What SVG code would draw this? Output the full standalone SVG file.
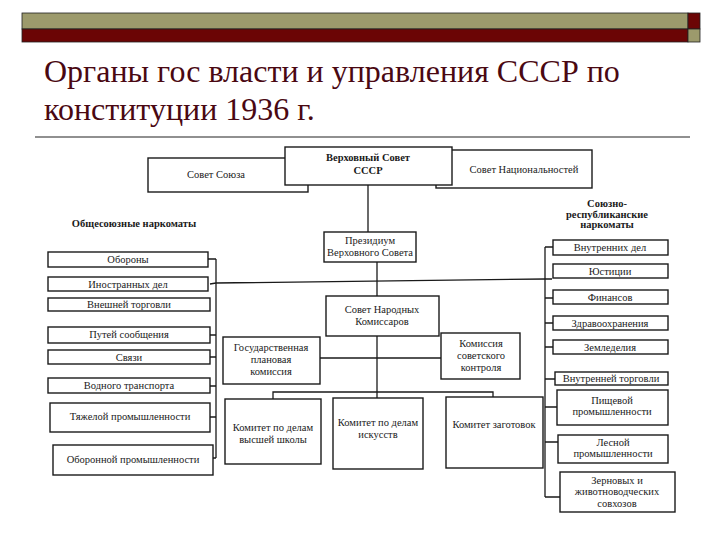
<svg xmlns="http://www.w3.org/2000/svg" width="720" height="540" viewBox="0 0 720 540">
<style>
.t{font-family:"Liberation Serif","Times New Roman",serif;font-size:10.5px;fill:#1a1a1a;text-anchor:middle}
.b{font-weight:bold}
.box{fill:#fff;stroke:#1a1a1a;stroke-width:1.4}
.ln{fill:none;stroke:#1a1a1a;stroke-width:1.3}
.title{font-family:"Liberation Serif","Times New Roman",serif;font-size:32px;fill:#4a0812}
</style>
<rect width="720" height="540" fill="#fff"/>
<g id="header">
<rect x="22" y="13" width="666" height="16" fill="#9c9a6c" stroke="#222" stroke-width="0.8"/>
<rect x="22" y="29" width="666" height="13" fill="#6b0505" stroke="#222" stroke-width="0.8"/>
<rect x="688" y="13" width="12" height="16" fill="#6b0505" stroke="#222" stroke-width="0.8"/>
<rect x="688" y="29" width="12" height="13" fill="#9c9a6c" stroke="#222" stroke-width="0.8"/>
<text class="title" x="44" y="82">Органы гос власти и управления СССР по</text>
<text class="title" x="44" y="120">конституции 1936 г.</text>
<line x1="35" y1="137" x2="690" y2="137" stroke="#222" stroke-width="1.2"/>
</g>
<g id="connectors">
<path class="ln" d="M368 185 V232"/>
<path class="ln" d="M377 262 V296"/>
<path class="ln" d="M210 284 L216 283 L545 279 L552 279"/>
<path class="ln" d="M216 259 V458"/>
<path class="ln" d="M208 259 H216 M210 335 H216 M210 357 H216 M210 386 H216 M210 417 H216 M213 458 H216"/>
<path class="ln" d="M545 247 V497"/>
<path class="ln" d="M545 247 H553 M545 298 H553 M545 323 H553 M545 347 H553 M545 379 H555 M545 407 H557 M545 442 H558 M545 497 H560"/>
<path class="ln" d="M377 336 V392"/>
<path class="ln" d="M320 358 H441"/>
<path class="ln" d="M273 399 V392 H493 V397 M377 392 V398"/>
</g>
<g id="sovet-soyuza"><rect class="box" x="148" y="158" width="160" height="34"/><text class="t" x="216" y="178">Совет Союза</text></g>
<g id="sovet-nats"><rect class="box" x="436" y="150" width="156" height="38"/><text class="t" x="524" y="173">Совет Национальностей</text></g>
<g id="verkhovny"><rect class="box" x="285" y="147" width="167" height="38"/><text class="t b" x="368" y="161">Верховный Совет</text><text class="t b" x="368" y="174">СССР</text></g>
<g id="prezidium"><rect class="box" x="324" y="232" width="92" height="30"/><text class="t" x="370" y="244">Президиум</text><text class="t" x="370" y="256">Верховного Совета</text></g>
<g id="snk"><rect class="box" x="326" y="296" width="113" height="40"/><text class="t" x="382" y="313">Совет Народных</text><text class="t" x="382" y="325">Комиссаров</text></g>
<g id="gosplan"><rect class="box" x="223" y="337" width="97" height="47"/><text class="t" x="271" y="351">Государственная</text><text class="t" x="271" y="363">плановая</text><text class="t" x="271" y="375">комиссия</text></g>
<g id="kontrol"><rect class="box" x="441" y="333" width="79" height="46"/><text class="t" x="481" y="347">Комиссия</text><text class="t" x="481" y="359">советского</text><text class="t" x="481" y="371">контроля</text></g>
<g id="vysh-shkola"><rect class="box" x="225" y="399" width="96" height="65"/><text class="t" x="273" y="431">Комитет по делам</text><text class="t" x="273" y="443">высшей школы</text></g>
<g id="iskusstva"><rect class="box" x="333" y="398" width="90" height="71"/><text class="t" x="378" y="426">Комитет по делам</text><text class="t" x="378" y="438">искусств</text></g>
<g id="zagotovki"><rect class="box" x="446" y="397" width="97" height="71"/><text class="t" x="494" y="428">Комитет заготовок</text></g>
<g id="obshchesoyuznye"><text class="t b" x="134" y="227">Общесоюзные наркоматы</text></g>
<g id="oborony"><rect class="box" x="48" y="252" width="160" height="15"/><text class="t" x="128" y="263">Обороны</text></g>
<g id="inostr"><rect class="box" x="48" y="277" width="160" height="14"/><text class="t" x="128" y="288">Иностранных дел</text></g>
<g id="vneshn"><rect class="box" x="48" y="298" width="162" height="13"/><text class="t" x="129" y="308">Внешней торговли</text></g>
<g id="putey"><rect class="box" x="48" y="327" width="162" height="16"/><text class="t" x="129" y="338">Путей сообщения</text></g>
<g id="svyazi"><rect class="box" x="48" y="350" width="162" height="14"/><text class="t" x="129" y="361">Связи</text></g>
<g id="vodnogo"><rect class="box" x="48" y="378" width="162" height="15"/><text class="t" x="129" y="389">Водного транспорта</text></g>
<g id="tyazh"><rect class="box" x="50" y="403" width="160" height="29"/><text class="t" x="130" y="420">Тяжелой промышленности</text></g>
<g id="oboron-prom"><rect class="box" x="53" y="445" width="160" height="30"/><text class="t" x="133" y="463">Оборонной промышленности</text></g>
<g id="soyuzno"><text class="t b" x="607" y="207">Союзно-</text><text class="t b" x="607" y="218">республиканские</text><text class="t b" x="607" y="228">наркоматы</text></g>
<g id="vnutr-del"><rect class="box" x="553" y="240" width="115" height="15"/><text class="t" x="610" y="251">Внутренних дел</text></g>
<g id="yustitsii"><rect class="box" x="553" y="264" width="115" height="14"/><text class="t" x="610" y="275">Юстиции</text></g>
<g id="finansov"><rect class="box" x="553" y="290" width="115" height="14"/><text class="t" x="610" y="301">Финансов</text></g>
<g id="zdrav"><rect class="box" x="553" y="316" width="115" height="14"/><text class="t" x="610" y="327">Здравоохранения</text></g>
<g id="zemled"><rect class="box" x="553" y="340" width="115" height="14"/><text class="t" x="610" y="351">Земледелия</text></g>
<g id="vnutr-torg"><rect class="box" x="555" y="372" width="113" height="13"/><text class="t" x="611" y="382">Внутренней торговли</text></g>
<g id="pishch"><rect class="box" x="557" y="390" width="111" height="35"/><text class="t" x="612" y="404">Пищевой</text><text class="t" x="612" y="415">промышленности</text></g>
<g id="lesnoy"><rect class="box" x="558" y="435" width="110" height="28"/><text class="t" x="613" y="446">Лесной</text><text class="t" x="613" y="457">промышленности</text></g>
<g id="zernovykh"><rect class="box" x="560" y="472" width="115" height="40"/><text class="t" x="617" y="484">Зерновых и</text><text class="t" x="617" y="495">животноводческих</text><text class="t" x="617" y="507">совхозов</text></g>
</svg>
